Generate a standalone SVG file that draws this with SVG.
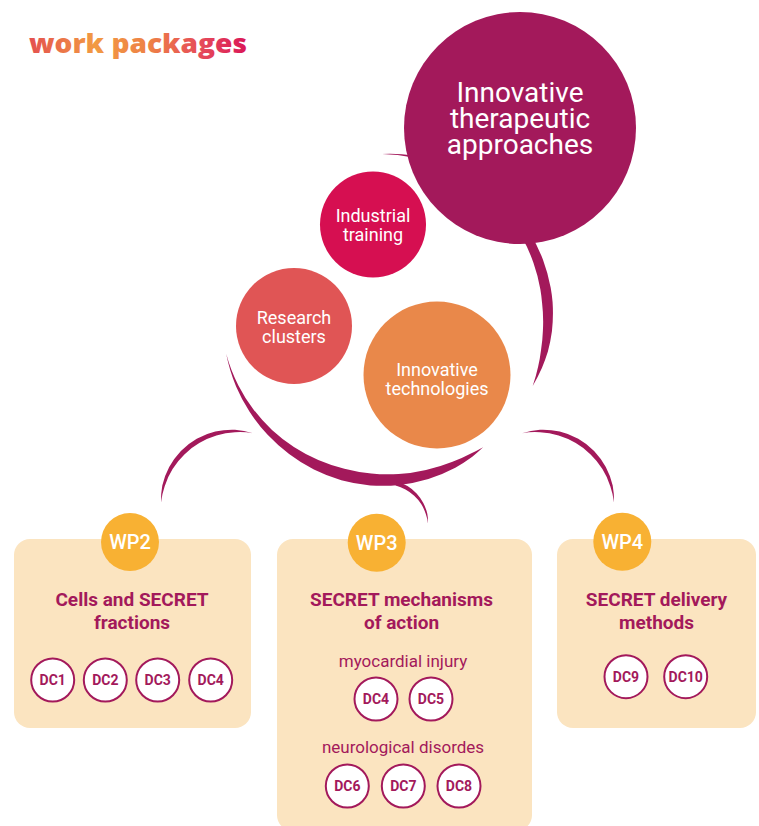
<svg xmlns="http://www.w3.org/2000/svg" width="759" height="826" viewBox="0 0 759 826">
<defs>
<linearGradient id="titleGrad" x1="29" y1="0" x2="247" y2="0" gradientUnits="userSpaceOnUse">
<stop offset="0" stop-color="#E4504F"/>
<stop offset="0.3" stop-color="#F29A43"/>
<stop offset="0.55" stop-color="#EE8146"/>
<stop offset="0.8" stop-color="#E5485A"/>
<stop offset="1" stop-color="#DA1757"/>
</linearGradient>
<style>
.arc{fill:#A3195B;stroke:none}
.box{fill:#FBE4C0}
.wp{fill:#F8B133}
.wpt{font-family:Roboto,"Liberation Sans",sans-serif;font-size:20px;font-weight:500;fill:#fff;text-anchor:middle}
.ttl{font-family:Roboto,"Liberation Sans",sans-serif;font-size:19px;font-weight:700;fill:#A3195B;text-anchor:middle}
.sub{font-family:Roboto,"Liberation Sans",sans-serif;font-size:17px;font-weight:400;fill:#A3195B;text-anchor:middle}
.dc{fill:#fff;stroke:#A3195B;stroke-width:2}
.dct{font-family:Roboto,"Liberation Sans",sans-serif;font-size:14px;font-weight:700;fill:#A3195B;text-anchor:middle}
.ct{font-family:Roboto,"Liberation Sans",sans-serif;font-size:18px;font-weight:400;fill:#fff;text-anchor:middle}
.bt{font-family:Roboto,"Liberation Sans",sans-serif;font-size:28px;font-weight:400;fill:#fff;text-anchor:middle}
</style>
</defs>
<rect width="759" height="826" fill="#fff"/>
<text x="29" y="53" font-family="'Open Sans','Liberation Sans',sans-serif" font-size="26" font-weight="800" fill="url(#titleGrad)" textLength="218" lengthAdjust="spacingAndGlyphs">work packages</text>

<g id="connectors">
<path class="arc" d="M382.2,154 A165,165 0 0 1 413.5,155.5 A165,165 0 0 1 441.3,162.4 A165,165 0 0 1 467.6,173.9 A165,165 0 0 1 491.7,189.8 A165,165 0 0 1 512.7,209.8 A165,165 0 0 1 530.1,233.25 A165,165 0 0 1 542.9,259.5 A165,165 0 0 1 550.7,287.8 A165,165 0 0 1 552.6,302.3 A165,165 0 0 1 551.9,331.6 A165,165 0 0 1 547.9,351.6 A165,165 0 0 1 541.9,368 A165,165 0 0 1 532.7,385.9 A160,160 0 0 0 538.1,366.8 A160,160 0 0 0 541,350.2 A160,160 0 0 0 542.9,330.8 A160,160 0 0 0 542.1,303.3 A160,160 0 0 0 540.4,289.6 A160,160 0 0 0 533.5,263 A160,160 0 0 0 522.3,237.75 A160,160 0 0 0 507,214.6 A160,160 0 0 0 487.8,194.4 A160,160 0 0 0 465.4,177.8 A160,160 0 0 0 440.2,165.2 A160,160 0 0 0 413.1,157.5 A160,160 0 0 0 382.2,154 Z"/>
<path class="arc" d="M226.2,353.7 A166,166 0 0 0 236.1,386.4 A166,166 0 0 0 249.6,411.8 A166,166 0 0 0 267.4,434.6 A166,166 0 0 0 289.1,454 A166,166 0 0 0 313.9,469.5 A166,166 0 0 0 341.3,480.2 A166,166 0 0 0 370.3,485.4 A166,166 0 0 0 399.7,484.9 A166,166 0 0 0 428.4,479 A166,166 0 0 0 455.3,467.7 A166,166 0 0 0 472.3,456.7 A166,166 0 0 0 483.1,447.2 A160,160 0 0 1 470.4,453.7 A160,160 0 0 1 452.5,461.8 A160,160 0 0 1 426,469.9 A160,160 0 0 1 398.7,473.9 A160,160 0 0 1 371.3,473.4 A160,160 0 0 1 344.4,468.7 A160,160 0 0 1 318.3,460 A160,160 0 0 1 293.9,447 A160,160 0 0 1 272,430 A160,160 0 0 1 253.3,409.2 A160,160 0 0 1 238.4,385.4 A160,160 0 0 1 226.2,353.7 Z"/>
<path class="arc" d="M252.9,433.2 A75,75 0 0 0 235,429.75 A75,75 0 0 0 215.3,431.6 A75,75 0 0 0 196.75,438.75 A75,75 0 0 0 180.9,450.9 A75,75 0 0 0 169.2,467 A75,75 0 0 0 162.3,485.5 A75,75 0 0 0 161.05,502.4 A73,73 0 0 1 164.7,486.2 A73,73 0 0 1 172.6,469 A73,73 0 0 1 184.4,454.4 A73,73 0 0 1 199.25,443.1 A73,73 0 0 1 216.4,435.5 A73,73 0 0 1 235,432.25 A73,73 0 0 1 252.9,433.2 Z"/>
<path class="arc" d="M522.1,433.2 A75,75 0 0 1 540,429.75 A75,75 0 0 1 559.7,431.6 A75,75 0 0 1 578.25,438.75 A75,75 0 0 1 594.1,450.9 A75,75 0 0 1 605.8,467 A75,75 0 0 1 612.7,485.5 A75,75 0 0 1 613.95,502.4 A73,73 0 0 0 610.3,486.2 A73,73 0 0 0 602.4,469 A73,73 0 0 0 590.6,454.4 A73,73 0 0 0 575.75,443.1 A73,73 0 0 0 558.6,435.5 A73,73 0 0 0 540,432.25 A73,73 0 0 0 522.1,433.2 Z"/>
<path class="arc" d="M395.6,485.4 L396.6,481.5 A45,45 0 0 1 407.5,486 A45,45 0 0 1 416.6,493.4 A45,45 0 0 1 423.3,502.9 A45,45 0 0 1 427.3,513.7 A45,45 0 0 1 428,523.5 A42,42 0 0 0 425.8,514.1 A42,42 0 0 0 421.2,504.1 A42,42 0 0 0 414.2,495.8 A42,42 0 0 0 405.5,489.5 A42,42 0 0 0 395.6,485.4 Z"/>
</g>

<g id="node-therapeutic">
<circle cx="520" cy="128" r="116" fill="#A3195B"/>
<text class="bt" x="520" y="102">Innovative</text>
<text class="bt" x="520" y="128">therapeutic</text>
<text class="bt" x="520" y="154">approaches</text>
</g>
<g id="node-industrial">
<circle cx="373" cy="224.5" r="53" fill="#D60F51"/>
<text class="ct" x="373" y="222">Industrial</text>
<text class="ct" x="373" y="241">training</text>
</g>
<g id="node-research">
<circle cx="294" cy="326" r="58" fill="#E05555"/>
<text class="ct" x="294" y="323.5">Research</text>
<text class="ct" x="294" y="342.5">clusters</text>
</g>
<g id="node-technologies">
<circle cx="437" cy="375" r="73.5" fill="#E9884A"/>
<text class="ct" x="437" y="376">Innovative</text>
<text class="ct" x="437" y="395">technologies</text>
</g>

<g id="node-wp2">
<rect class="box" x="14" y="539" width="237" height="189" rx="16"/>
<circle class="wp" cx="130" cy="542" r="29"/>
<text class="wpt" x="130" y="549">WP2</text>
<text class="ttl" x="132" y="606">Cells and SECRET</text>
<text class="ttl" x="132" y="629">fractions</text>
<circle class="dc" cx="52.7" cy="680" r="21.5"/><text class="dct" x="52.7" y="685">DC1</text>
<circle class="dc" cx="105.3" cy="680" r="21.5"/><text class="dct" x="105.3" y="685">DC2</text>
<circle class="dc" cx="157.7" cy="680" r="21.5"/><text class="dct" x="157.7" y="685">DC3</text>
<circle class="dc" cx="210.7" cy="680" r="21.5"/><text class="dct" x="210.7" y="685">DC4</text>
</g>

<g id="node-wp3">
<rect class="box" x="277" y="539" width="255" height="292" rx="16"/>
<circle class="wp" cx="376.7" cy="542.7" r="29"/>
<text class="wpt" x="376.7" y="549.5">WP3</text>
<text class="ttl" x="401.5" y="606">SECRET mechanisms</text>
<text class="ttl" x="401.5" y="629">of action</text>
<text class="sub" x="403" y="667">myocardial injury</text>
<circle class="dc" cx="376" cy="699" r="21.5"/><text class="dct" x="376" y="704">DC4</text>
<circle class="dc" cx="431" cy="699" r="21.5"/><text class="dct" x="431" y="704">DC5</text>
<text class="sub" x="403" y="752.5">neurological disordes</text>
<circle class="dc" cx="347.3" cy="786" r="21.5"/><text class="dct" x="347.3" y="791">DC6</text>
<circle class="dc" cx="403.3" cy="786" r="21.5"/><text class="dct" x="403.3" y="791">DC7</text>
<circle class="dc" cx="459" cy="786" r="21.5"/><text class="dct" x="459" y="791">DC8</text>
</g>

<g id="node-wp4">
<rect class="box" x="557" y="539" width="199" height="189" rx="16"/>
<circle class="wp" cx="622.3" cy="541.7" r="29"/>
<text class="wpt" x="622.3" y="548.5">WP4</text>
<text class="ttl" x="656.5" y="606">SECRET delivery</text>
<text class="ttl" x="656.5" y="629">methods</text>
<circle class="dc" cx="626" cy="676.7" r="21.5"/><text class="dct" x="626" y="681.7">DC9</text>
<circle class="dc" cx="685.7" cy="676.7" r="21.5"/><text class="dct" x="685.7" y="681.7">DC10</text>
</g>
</svg>
